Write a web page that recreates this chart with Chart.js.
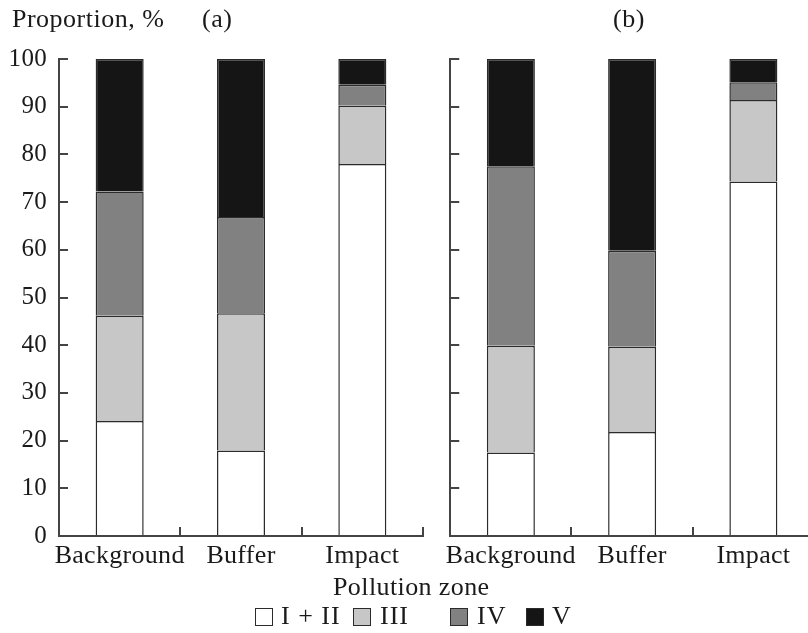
<!DOCTYPE html>
<html><head><meta charset="utf-8">
<script src="https://cdn.jsdelivr.net/npm/chart.js@4/dist/chart.umd.min.js"></script>
<style>
html,body{margin:0;padding:0;background:#fff;overflow:hidden;}
#wrap{position:relative;width:808px;height:633px;overflow:hidden;font-family:"Liberation Serif","Times New Roman",serif;color:#1a1a1a;}
.t{position:absolute;font-size:26px;line-height:26px;white-space:nowrap;}
canvas{position:absolute;top:0;}
.box{position:absolute;width:16px;height:16px;border:1px solid #2b2b2b;}
</style></head><body>
<div id="wrap">
<canvas id="ca" width="440" height="600" style="left:0px"></canvas>
<canvas id="cb" width="400" height="600" style="left:430px"></canvas>
<div class="t" style="left:12px;top:6px;letter-spacing:0.5px">Proportion, %</div>
<div class="t" style="left:202px;top:6px;letter-spacing:0.5px">(a)</div>
<div class="t" style="left:613px;top:6px;letter-spacing:0.5px">(b)</div>
<div class="t" style="left:333px;top:574px;letter-spacing:0.4px">Pollution zone</div>
<div id="legend"></div>
</div>
<script>
// ---- data ----
const categories = ['Background', 'Buffer', 'Impact'];
const classLabels = ['I + II', 'III', 'IV', 'V'];
const yTickValues = [0, 10, 20, 30, 40, 50, 60, 70, 80, 90, 100];

// panel (a)
const panelA_I_II = [24.1, 17.9, 78.0];
const panelA_III  = [22.1, 28.8, 12.2];
const panelA_IV   = [26.0, 20.2, 4.4];
const panelA_V    = [27.8, 33.1, 5.4];

// panel (b)
const panelB_I_II = [17.5, 21.8, 74.3];
const panelB_III  = [22.4, 17.9, 17.1];
const panelB_IV   = [37.6, 20.1, 3.7];
const panelB_V    = [22.5, 40.2, 4.9];

const fillColors = ['#ffffff', '#c6c7c6', '#818181', '#151515'];
const FONT = '"Liberation Serif", "Times New Roman", serif';

// legend (HTML text)
const legendX = [[255, 281], [353, 380], [450, 477], [526, 552]];
const legendEl = document.getElementById('legend');
classLabels.forEach((lab, i) => {
  const b = document.createElement('div');
  b.className = 'box';
  b.style.left = legendX[i][0] + 'px';
  b.style.top = '608px';
  b.style.background = fillColors[i];
  legendEl.appendChild(b);
  const t = document.createElement('div');
  t.className = 't';
  t.style.left = legendX[i][1] + 'px';
  t.style.top = '603px';
  t.style.letterSpacing = '1px';
  t.textContent = lab;
  legendEl.appendChild(t);
});

const spacingPlugin = {
  id: 'spacing',
  beforeDraw(chart) { try { chart.ctx.letterSpacing = '0.3px'; } catch (e) {} }
};

function makePanel(id, values, showLabels, yWidth, rightPad) {
  return new Chart(document.getElementById(id), {
    type: 'bar',
    data: {
      labels: categories,
      datasets: classLabels.map((lab, i) => ({
        label: lab,
        data: values[i],
        backgroundColor: fillColors[i],
        borderColor: '#2b2b2b',
        borderWidth: 1.5,
        borderSkipped: 'start',
        categoryPercentage: 1,
        barPercentage: 0.396
      }))
    },
    plugins: [spacingPlugin],
    options: {
      responsive: false,
      animation: false,
      events: [],
      layout: { padding: { top: 59, right: rightPad, left: 0, bottom: 0 } },
      plugins: { legend: { display: false }, tooltip: { enabled: false } },
      scales: {
        x: {
          stacked: true,
          offset: true,
          grid: { offset: true, drawOnChartArea: false, drawTicks: true, tickLength: -9, color: '#444', lineWidth: 2 },
          border: { color: '#444', width: 2 },
          ticks: { font: { family: FONT, size: 26 }, color: '#1a1a1a', padding: 14, maxRotation: 0, autoSkip: false },
          afterFit: s => { s.height = 64; }
        },
        y: {
          stacked: true,
          min: 0,
          max: 100,
          afterBuildTicks: s => { s.ticks = yTickValues.map(v => ({ value: v })); },
          grid: { drawOnChartArea: false, drawTicks: true, tickLength: -9, color: '#444', lineWidth: 2 },
          border: { color: '#444', width: 2 },
          ticks: { display: showLabels, font: { family: FONT, size: 25 }, color: '#1a1a1a', padding: 21 },
          afterFit: s => { s.width = yWidth; }
        }
      }
    }
  });
}

makePanel('ca', [panelA_I_II, panelA_III, panelA_IV, panelA_V], true, 59, 17);
makePanel('cb', [panelB_I_II, panelB_III, panelB_IV, panelB_V], false, 20, 16);
</script>
</body></html>
